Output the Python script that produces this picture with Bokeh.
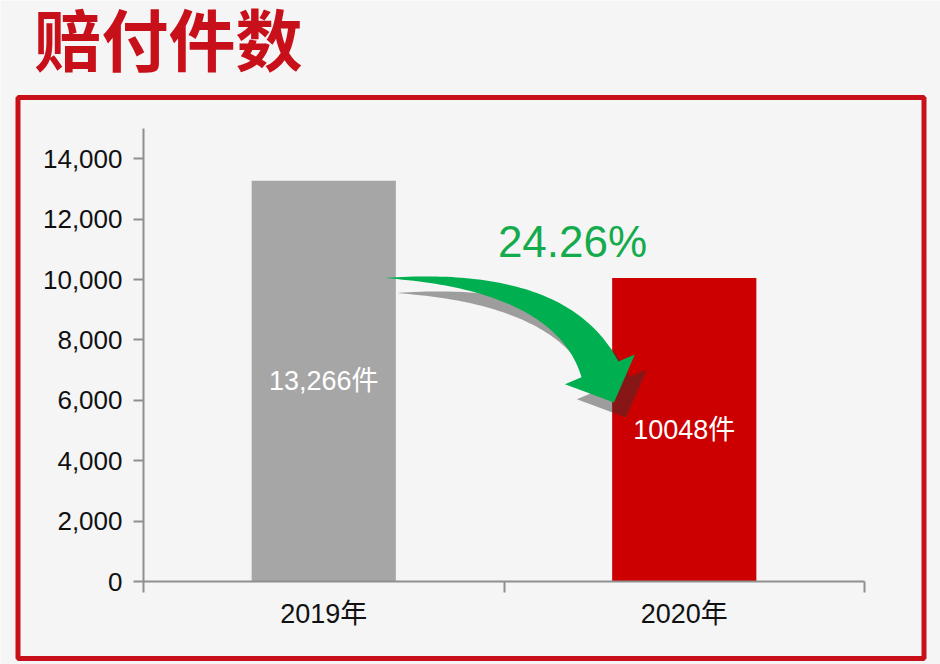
import numpy as np
from bokeh.plotting import figure
from bokeh.models import (Range1d, FixedTicker, Label, BoxAnnotation,
                          NumeralTickFormatter, ColumnDataSource)
from bokeh.core.properties import value
from bokeh.embed import file_html
from bokeh.resources import INLINE

# ---- data -------------------------------------------------------------
title_text = "赔付件数"
categories = ["2019年", "2020年"]
claims = [13266, 10048]
bar_labels = ["13,266件", "10048件"]
bar_colors = ["#a6a6a6", "#cc0000"]
y_ticks = [0, 2000, 4000, 6000, 8000, 10000, 12000, 14000]
y_max = 15000

# ---- styling ----------------------------------------------------------
BG = "#f5f5f6"
RED = "#c8101a"
GREEN = "#00b050"
GREEN_TEXT = "#14ab4c"
AXIS = "#8f8f8f"
NUM_FONT = "'Liberation Sans', 'Noto Sans CJK SC', sans-serif"

W, H = 940, 664
# pixel placement of the value area inside the canvas
AX_L, AX_R, AX_T, AX_B = 143, 864, 128, 581
BAR_W = 0.4

n = len(categories)
centers = [i + 0.5 for i in range(n)]

sx = (AX_R - AX_L) / n             # pixels per category
sy = (AX_B - AX_T) / y_max         # pixels per claim
x0 = -AX_L / sx
y0 = -(H - AX_B) / sy

# the plot area spans the whole canvas; axes sit at fixed data locations
p = figure(width=W, height=H, output_backend="svg", toolbar_location=None,
           x_range=Range1d(x0, x0 + W / sx), y_range=Range1d(y0, y0 + H / sy),
           min_border=0, background_fill_color=BG, border_fill_color=BG)
p.outline_line_color = None
p.grid.visible = False

xa = p.xaxis[0]
xa.fixed_location = 0
xa.bounds = (0, n)
xa.ticker = FixedTicker(ticks=centers, minor_ticks=list(range(n + 1)))
xa.major_label_overrides = {c: lab for c, lab in zip(centers, categories)}
xa.major_tick_out = 0
xa.major_tick_in = 0
xa.minor_tick_out = 11
xa.minor_tick_in = 0
xa.minor_tick_line_color = AXIS
xa.minor_tick_line_width = 2
xa.axis_line_color = AXIS
xa.axis_line_width = 2
xa.major_label_standoff = 6
xa.major_label_text_font = NUM_FONT
xa.major_label_text_font_size = "27px"
xa.major_label_text_color = "#111111"

ya = p.yaxis[0]
ya.fixed_location = 0
ya.bounds = (0, y_max)
ya.ticker = FixedTicker(ticks=y_ticks)
ya.formatter = NumeralTickFormatter(format="0,0")
ya.major_tick_out = 10
ya.major_tick_in = 0
ya.minor_tick_out = 0
ya.minor_tick_in = 0
ya.major_tick_line_color = AXIS
ya.major_tick_line_width = 2
ya.axis_line_color = AXIS
ya.axis_line_width = 2
ya.major_label_standoff = 11
ya.major_label_text_font = NUM_FONT
ya.major_label_text_font_size = "26px"
ya.major_label_text_color = "#111111"

# ---- bars -------------------------------------------------------------
src = ColumnDataSource(dict(x=centers, top=claims, color=bar_colors,
                            label=bar_labels, mid=[v / 2 for v in claims]))
p.vbar(x="x", top="top", width=BAR_W, fill_color="color", line_color=None,
       source=src)
p.text(x="x", y="mid", text="label", source=src, text_align="center",
       text_baseline="middle", text_color="white",
       text_font=value(NUM_FONT), text_font_size="27px")

# ---- curved arrow from the 2019 bar down to the 2020 bar ---------------
def to_px(x, y):
    return np.array([x * sx, y * sy])


tail = to_px(centers[0] + BAR_W / 2 - 0.03, claims[1])
tip = to_px(centers[1] - BAR_W / 2 + 0.005, claims[1] * 0.59)
d = np.array([0.39, -0.92]); d /= np.linalg.norm(d)
head_len, head_w, shaft_w = 36.0, 76.0, 40.0
base = tip - head_len * d
# control point: horizontal start meets the head direction
b = (tail[1] - base[1]) / (-d[1])
ctrl = np.array([base[0] - b * d[0], tail[1]])

t = np.linspace(0, 1, 60)[:, None]
curve = (1 - t) ** 2 * tail + 2 * (1 - t) * t * ctrl + t ** 2 * base
tang = 2 * (1 - t) * (ctrl - tail) + 2 * t * (base - ctrl)
tang /= np.linalg.norm(tang, axis=1)[:, None]
norm = np.column_stack([-tang[:, 1], tang[:, 0]])
w = shaft_w * t[:, 0] ** 0.9 / 2
upper = curve + norm * w[:, None]
lower = curve - norm * w[:, None]
n_end = norm[-1]
outline = np.vstack([upper,
                     base + n_end * head_w / 2,
                     tip,
                     base - n_end * head_w / 2,
                     lower[::-1]])

# drop shadow below and right of the arrow
shadow = outline + np.array([12, -15])
p.patch(shadow[:, 0] / sx, shadow[:, 1] / sy, fill_color="#333333",
        fill_alpha=0.45, line_color=None)
p.patch(outline[:, 0] / sx, outline[:, 1] / sy, fill_color=GREEN,
        line_color=None)

drop = (claims[0] - claims[1]) / claims[0] * 100
p.add_layout(Label(x=1.19, y=11250, text=f"{drop:.2f}%", text_align="center",
                   text_baseline="middle", text_color=GREEN_TEXT,
                   text_font=NUM_FONT, text_font_size="44px"))

# ---- title and red frame ----------------------------------------------
p.add_layout(Label(x=34, y=42, x_units="canvas", y_units="canvas",
                   text=title_text, text_baseline="middle",
                   text_color=RED, text_font=NUM_FONT,
                   text_font_size="67px", text_font_style="bold"))
p.add_layout(BoxAnnotation(left=17.5, right=923.5, top=97, bottom=658,
                           left_units="canvas", right_units="canvas",
                           top_units="canvas", bottom_units="canvas",
                           fill_alpha=0, line_color=RED, line_alpha=1,
                           line_width=5))

open("out.html", "w").write(file_html(p, INLINE))
